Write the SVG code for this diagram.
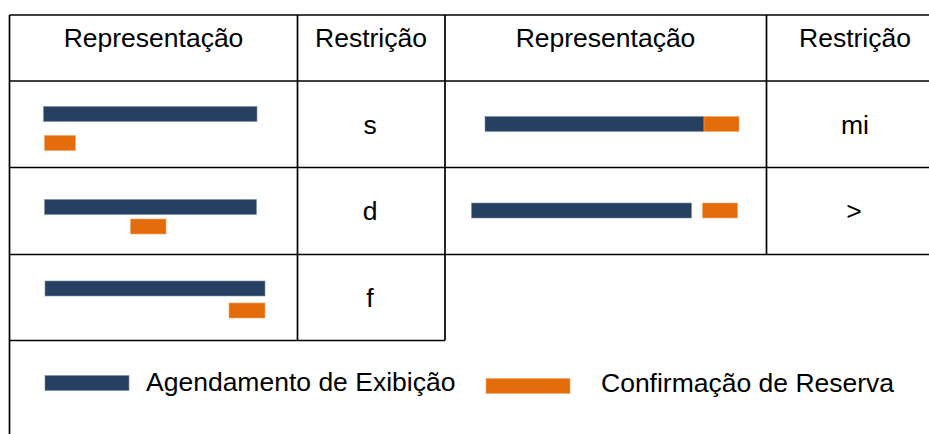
<svg xmlns="http://www.w3.org/2000/svg" width="929" height="434" viewBox="0 0 929 434">
<style>
.ln{stroke:#000;stroke-width:1.7;fill:none}
.t{font-family:"Liberation Sans",Arial,sans-serif;font-size:26.5px;fill:#000}
.c{text-anchor:middle}
.b{fill:#264061;stroke:#7f8fa6;stroke-width:0.6}
.o{fill:#E46C0A;stroke:#f3a86a;stroke-width:0.6}
</style>
<rect width="929" height="434" fill="#fff"/>
<g id="grid">
<path class="ln" d="M9.5,15 H929 M9.5,81 H929 M9.5,167.5 H929 M9.5,254.5 H929 M9.5,340.5 H445 M9.5,15 V434 M297.5,15 V340.5 M445,15 V340.5 M766.5,15 V254.5"/>
</g>
<g id="header">
<text class="t c" x="153.5" y="47">Representação</text>
<text class="t c" x="371" y="47">Restrição</text>
<text class="t c" x="605.5" y="47">Representação</text>
<text class="t c" x="855" y="47">Restrição</text>
</g>
<g id="row-s">
<rect class="b" x="43.5" y="106.5" width="213.5" height="15"/>
<rect class="o" x="44.5" y="135.5" width="31" height="15"/>
<text class="t c" x="370" y="134">s</text>
</g>
<g id="row-mi">
<rect class="b" x="485" y="116.5" width="219" height="15"/>
<rect class="o" x="704" y="116.5" width="35" height="15"/>
<text class="t c" x="855" y="134">mi</text>
</g>
<g id="row-d">
<rect class="b" x="44.5" y="199.5" width="212" height="15"/>
<rect class="o" x="130.5" y="219" width="35.5" height="15"/>
<text class="t c" x="370" y="220">d</text>
</g>
<g id="row-gt">
<rect class="b" x="471.5" y="203" width="220" height="15"/>
<rect class="o" x="702.5" y="203" width="35" height="15"/>
<text class="t c" x="854" y="220">&gt;</text>
</g>
<g id="row-f">
<rect class="b" x="45" y="281" width="220" height="15"/>
<rect class="o" x="229" y="303" width="36" height="15"/>
<text class="t c" x="370" y="307">f</text>
</g>
<g id="legend">
<rect class="b" x="45" y="375.5" width="84" height="15"/>
<text class="t" x="146" y="391">Agendamento de Exibição</text>
<rect class="o" x="486" y="378.5" width="84" height="15"/>
<text class="t" x="601" y="392">Confirmação de Reserva</text>
</g>
</svg>
